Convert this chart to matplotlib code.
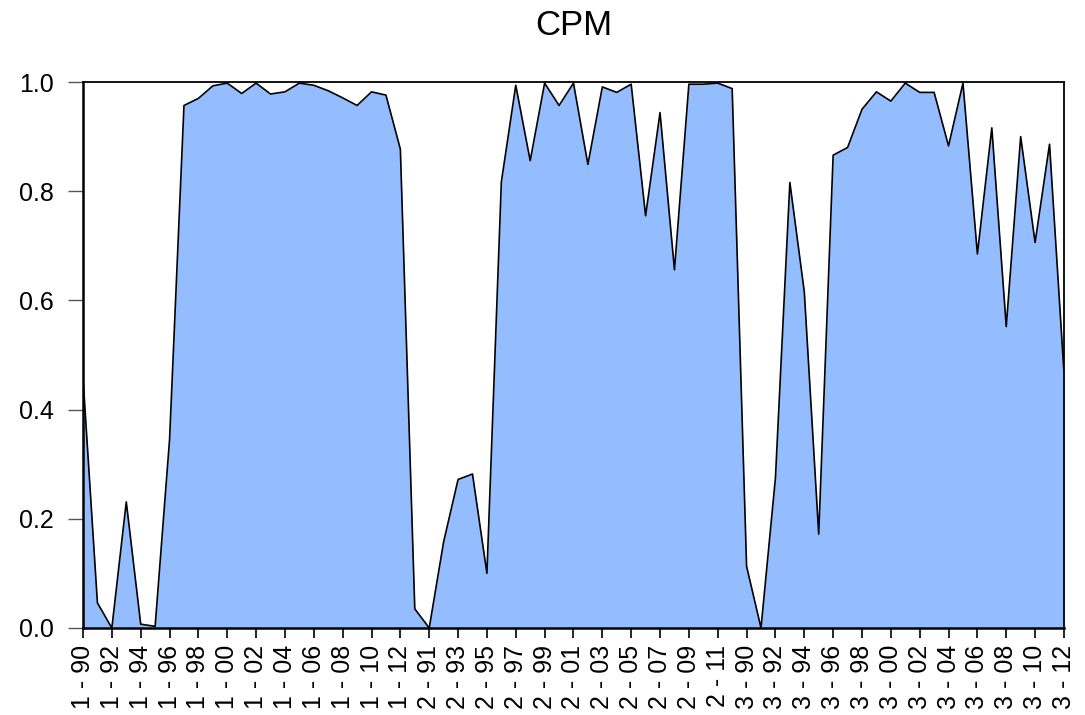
import numpy as np
import matplotlib.pyplot as plt

plt.rcParams['font.family'] = ['Liberation Sans', 'DejaVu Sans']

# CPM values per cross-section
cpm_1 = [0.458, 0.046, 0.0, 0.231, 0.007, 0.003, 0.345, 0.957, 0.970, 0.993,
         0.998, 0.979, 0.998, 0.978, 0.982, 0.998, 0.994, 0.984, 0.971, 0.957,
         0.982, 0.976, 0.877]                      # 1990-2012
cpm_2 = [0.035, 0.0, 0.158, 0.272, 0.282, 0.100, 0.817, 0.994, 0.856, 0.998,
         0.957, 0.998, 0.849, 0.991, 0.981, 0.996, 0.755, 0.944, 0.656, 0.996,
         0.996, 0.998, 0.988]                      # 1990-2012
cpm_3 = [0.113, 0.0, 0.275, 0.816, 0.616, 0.172, 0.866, 0.880, 0.950, 0.982,
         0.965, 0.998, 0.981, 0.981, 0.883, 0.998, 0.685, 0.916, 0.552, 0.900,
         0.706, 0.886, 0.468]                      # 1990-2012
years = list(range(1990, 2013))

values = cpm_1 + cpm_2 + cpm_3
labels = ['%d - %02d' % (k, y % 100) for k in (1, 2, 3) for y in years]
x = np.arange(len(values))

fig = plt.figure(figsize=(10.85, 7.15), dpi=100)
ax = fig.add_axes([0.0765, 0.1217, 0.9041, 0.7636])

ax.fill_between(x, values, 0, color='#94BDFF', linewidth=0)
ax.plot(x, values, color='black', linewidth=1.2)

ax.set_xlim(0, len(values) - 1)
ax.set_ylim(0, 1)
yt = np.arange(0, 1.01, 0.2)
ax.set_yticks(yt)
ax.set_yticklabels(['%.1f' % v for v in yt])
ax.set_xticks(x[::2])
ax.set_xticklabels(labels[::2], rotation=90)

ax.tick_params(axis='y', direction='out', length=11, width=1, color='#555555',
               labelsize=18, pad=10)
ax.tick_params(axis='x', direction='out', length=7, width=1.2,
               labelsize=18, pad=5)
for side in ['left', 'bottom']:
    ax.spines[side].set_linewidth(1.8)
for side in ['top', 'right']:
    ax.spines[side].set_linewidth(1.3)

ax.set_title('CPM', fontsize=25, pad=34)

fig.savefig('out.png', dpi=100)
